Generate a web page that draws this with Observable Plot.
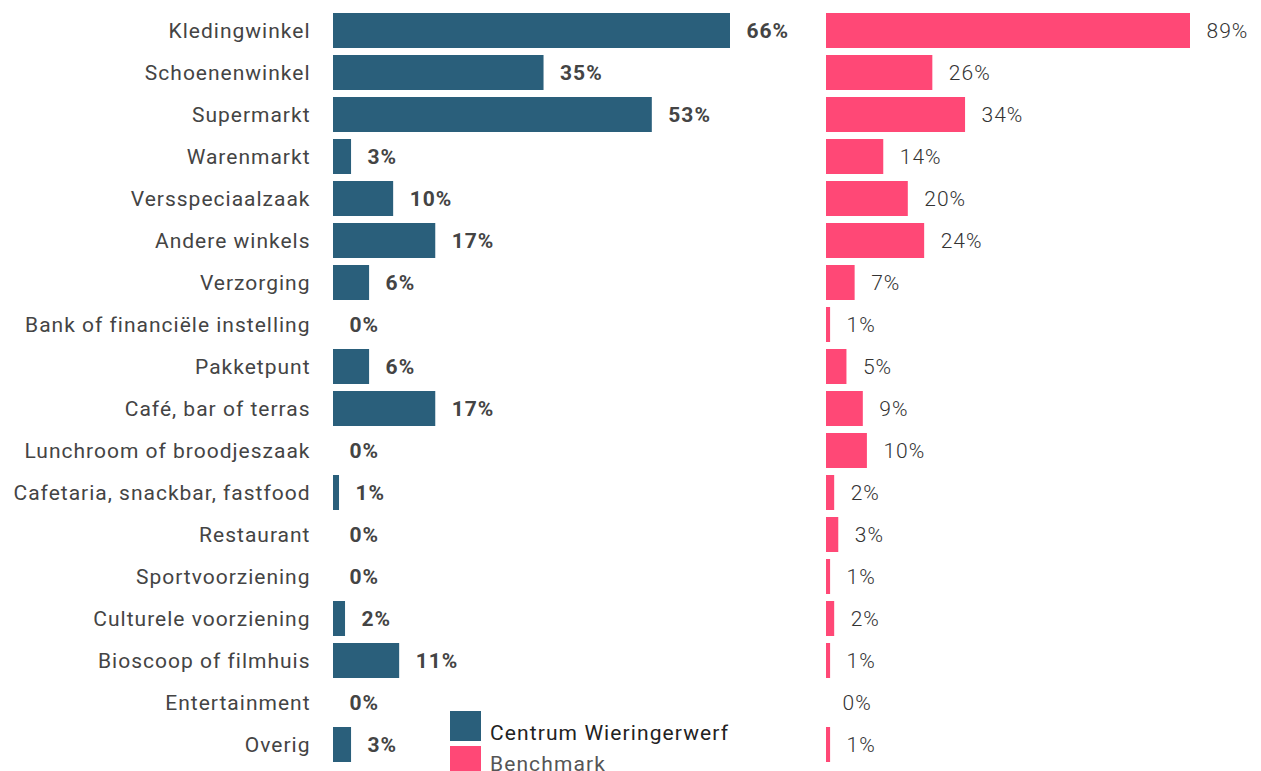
<!DOCTYPE html>
<html>
<head>
<meta charset="utf-8">
<script src="https://cdn.jsdelivr.net/npm/d3@7"></script>
<script src="https://cdn.jsdelivr.net/npm/@observablehq/plot@0.6"></script>
<style>
  html, body { margin: 0; padding: 0; background: #fff; overflow: hidden; }
  #wrap { position: relative; width: 1261px; height: 771px; font-family: Roboto, sans-serif; overflow: hidden; }
  #wrap svg { position: absolute; left: 0; top: 0; }
  .sw { position: absolute; left: 450px; width: 31px; height: 30px; }
  .lt { position: absolute; left: 490px; font-size: 21px; letter-spacing: 1.1px; line-height: 21px; white-space: nowrap; }
</style>
</head>
<body>
<div id="wrap"></div>
<script>
const categories = [
  "Kledingwinkel", "Schoenenwinkel", "Supermarkt", "Warenmarkt", "Versspeciaalzaak",
  "Andere winkels", "Verzorging", "Bank of financiële instelling", "Pakketpunt",
  "Café, bar of terras", "Lunchroom of broodjeszaak", "Cafetaria, snackbar, fastfood",
  "Restaurant", "Sportvoorziening", "Culturele voorziening", "Bioscoop of filmhuis",
  "Entertainment", "Overig"
];
const centrum = [66, 35, 53, 3, 10, 17, 6, 0, 6, 17, 0, 1, 0, 0, 2, 11, 0, 3];
const benchmark = [89, 26, 34, 14, 20, 24, 7, 1, 5, 9, 10, 2, 3, 1, 2, 1, 0, 1];
const seriesNames = ["Centrum Wieringerwerf", "Benchmark"];
const colors = ["#2a5f7b", "#ff4876"];

const left = categories.map((c, i) => ({cat: c, v: centrum[i]}));
const right = categories.map((c, i) => ({cat: c, v: benchmark[i]}));

const H = 771;
const yOpts = {domain: categories, paddingInner: 0.17, paddingOuter: 0.1};
const fontStyle = {fontFamily: "Roboto, sans-serif", fontSize: "21px", letterSpacing: "1px", color: "#444", background: "transparent", overflow: "visible"};

const p1 = Plot.plot({
  width: 800, height: H,
  marginLeft: 333, marginRight: 70, marginTop: 8, marginBottom: 4,
  style: fontStyle,
  x: {domain: [0, 66], axis: null},
  y: {...yOpts, label: null, tickSize: 0, tickPadding: 23},
  marks: [
    Plot.barX(left, {y: "cat", x: "v", fill: colors[0]}),
    Plot.text(left, {y: "cat", x: "v", text: d => d.v + "%", dx: 16, textAnchor: "start",
      fontWeight: "bold", fill: "#444", fontSize: 21})
  ]
});

const p2 = Plot.plot({
  width: 1261, height: H,
  marginLeft: 826, marginRight: 71, marginTop: 8, marginBottom: 4,
  style: fontStyle,
  x: {domain: [0, 89], axis: null},
  y: {...yOpts, axis: null},
  marks: [
    Plot.barX(right, {y: "cat", x: "v", fill: colors[1]}),
    Plot.text(right, {y: "cat", x: "v", text: d => d.v + "%", dx: 16, textAnchor: "start",
      fontWeight: 300, fill: "#333", fontSize: 21})
  ]
});

const wrap = document.getElementById("wrap");
wrap.appendChild(p1);
wrap.appendChild(p2);

const swTops = [711, 746];
const txtTops = [723, 754];
const txtColors = ["#222", "#555"];
seriesNames.forEach((n, i) => {
  const sw = document.createElement("div");
  sw.className = "sw";
  sw.style.top = swTops[i] + "px";
  sw.style.background = colors[i];
  const t = document.createElement("div");
  t.className = "lt";
  t.style.top = txtTops[i] + "px";
  t.style.color = txtColors[i];
  t.textContent = n;
  wrap.appendChild(sw);
  wrap.appendChild(t);
});
</script>
</body>
</html>
